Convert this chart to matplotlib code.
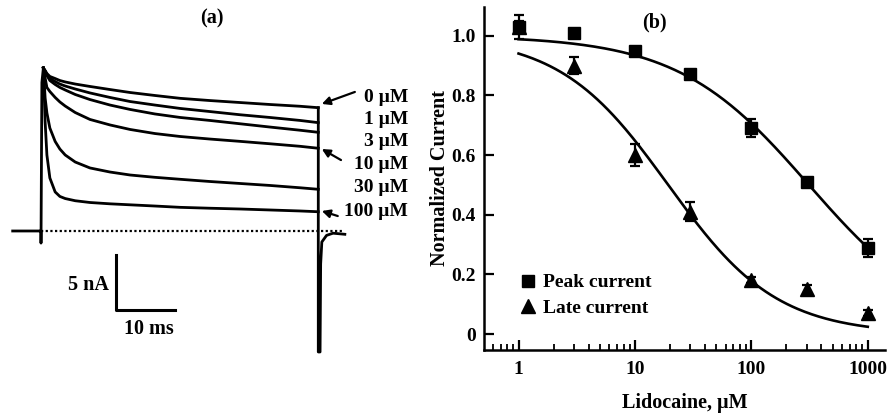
import numpy as np
import matplotlib.pyplot as plt
from matplotlib.ticker import FixedLocator, FixedFormatter, LogLocator, NullFormatter

plt.rcParams['font.family'] = ['Liberation Serif', 'DejaVu Serif']
plt.rcParams['font.weight'] = 'bold'

# ---- panel (a): current traces (time in ms, current in nA) ----
trace_t = [0.4, 0.7, 1.0, 1.5, 2.4, 3.2, 4.1, 5.8, 8.3, 11.7, 15.1, 19.3,
           23.6, 28.6, 33.7, 38.8, 43.9, 47.0]
trace_0uM = [14.82, 14.59, 14.32, 14.05, 13.86, 13.68, 13.55, 13.36, 13.14, 12.86,
             12.59, 12.32, 12.06, 11.86, 11.68, 11.50, 11.34, 11.21]
trace_1uM = [14.82, 14.55, 14.23, 13.86, 13.59, 13.36, 13.18, 12.91, 12.55, 12.14,
             11.77, 11.45, 11.14, 10.86, 10.57, 10.32, 10.05, 9.85]
trace_3uM = [14.82, 14.50, 14.14, 13.68, 13.32, 13.05, 12.82, 12.41, 11.95, 11.45,
             11.05, 10.64, 10.32, 10.05, 9.75, 9.45, 9.16, 8.97]
trace_10uM = [14.82, 13.91, 13.05, 12.68, 12.14, 11.73, 11.36, 10.77, 10.14, 9.64,
              9.23, 8.86, 8.59, 8.36, 8.15, 7.93, 7.70, 7.52]
trace_30uM = [14.82, 12.09, 10.73, 9.36, 8.14, 7.45, 6.91, 6.27, 5.73, 5.36,
              5.09, 4.88, 4.70, 4.50, 4.32, 4.14, 3.93, 3.79]
trace_100uM = [14.82, 9.91, 6.91, 4.82, 3.55, 3.14, 2.95, 2.75, 2.59, 2.47,
               2.38, 2.27, 2.15, 2.07, 2.00, 1.91, 1.82, 1.75]
traces = [trace_0uM, trace_1uM, trace_3uM, trace_10uM, trace_30uM, trace_100uM]
trace_labels = ["0 µM", "1 µM", "3 µM", "10 µM", "30 µM", "100 µM"]

# onset of the pulse and the tail after it
onset_t = [-4.8, 0.0, 0.0, 0.15, 0.4]
onset_i = [0.0, 0.0, -1.1, 13.5, 14.82]
tail_t = [47.0, 47.0, 47.3, 47.4, 47.6, 48.4, 49.5, 51.5]
tail_i = [11.21, -11.0, -11.0, -3.0, -1.0, -0.4, -0.2, -0.3]

# ---- panel (b): dose response ----
conc = [1, 3, 10, 30, 100, 300, 1000]
peak_mean = [1.03, 1.01, 0.95, 0.87, 0.69, 0.51, 0.29]
peak_err = [0.02, 0.01, 0.01, 0.01, 0.03, 0.01, 0.03]
late_mean = [1.03, 0.90, 0.60, 0.41, 0.18, 0.15, 0.07]
late_err = [0.04, 0.028, 0.036, 0.032, 0.01, 0.015, 0.01]
# Hill fit parameters
peak_ic50, peak_n = 312.0, 0.77
late_ic50, late_n = 19.3, 0.93


def hill(x, ic50, n):
    return 1.0 / (1.0 + (x / ic50) ** n)


fig = plt.figure(figsize=(8.91, 4.16), dpi=100)

# ---------------- panel (a) ----------------
ax_a = fig.add_axes([0, 0, 420 / 891, 1])
ax_a.set_xlim(-6.95, 64.24)
ax_a.set_ylim(-16.82, 21.0)
ax_a.axis('off')

lw = 2.0
ax_a.plot(onset_t, onset_i, color='black', lw=lw)
for tr in traces:
    ax_a.plot(trace_t, tr, color='black', lw=lw)
ax_a.plot(tail_t, tail_i, color='black', lw=lw)
ax_a.plot([0, 51.2], [0, 0], color='black', lw=1.6, linestyle=(0, (1, 1.1)))

# scale bar
ax_a.plot([12.7, 12.7, 22.7], [-2.18, -7.18, -7.18], color='black', lw=2.2)
ax_a.text(8.0, -4.9, "5 nA", ha='center', va='center', fontsize=14.5)
ax_a.text(18.2, -8.9, "10 ms", ha='center', va='center', fontsize=14.5)

label_y = [12.18, 10.18, 8.18, 6.0, 3.91, 1.73]
for lab, yy in zip(trace_labels, label_y):
    ax_a.text(62.2, yy, lab, ha='right', va='center', fontsize=14)

arrow_kw = dict(arrowstyle='-|>', color='black', lw=1.6, mutation_scale=12,
                shrinkA=0, shrinkB=0)
ax_a.annotate("", xy=(47.6, 11.55), xytext=(53.2, 12.64), arrowprops=arrow_kw)
ax_a.annotate("", xy=(47.6, 7.45), xytext=(50.85, 6.45), arrowprops=arrow_kw)
ax_a.annotate("", xy=(47.6, 1.82), xytext=(50.3, 1.36), arrowprops=arrow_kw)

ax_a.text(29.0, 19.3, "(a)", ha='center', va='center', fontsize=14.5)

# ---------------- panel (b) ----------------
ax_b = fig.add_axes([484 / 891, 1 - 350 / 416, 401 / 891, 343 / 416])
ax_b.set_xscale('log')
ax_b.set_xlim(0.505, 1406)
ax_b.set_ylim(-0.053, 1.096)

x_fit = np.logspace(0, 3, 200)
ax_b.plot(x_fit, hill(x_fit, peak_ic50, peak_n), color='black', lw=1.9)
ax_b.plot(x_fit, hill(x_fit, late_ic50, late_n), color='black', lw=1.9)

ax_b.errorbar(conc, peak_mean, yerr=peak_err, fmt='none', ecolor='black',
              elinewidth=1.6, capsize=3.6, capthick=1.6)
ax_b.errorbar(conc, late_mean, yerr=late_err, fmt='none', ecolor='black',
              elinewidth=1.6, capsize=3.6, capthick=1.6)
ax_b.plot(conc, peak_mean, 's', color='black', markersize=8.5, label='Peak current')
ax_b.plot(conc, late_mean, '^', color='black', markersize=10, label='Late current')

ax_b.spines['top'].set_visible(False)
ax_b.spines['right'].set_visible(False)
ax_b.spines['left'].set_linewidth(1.8)
ax_b.spines['bottom'].set_linewidth(1.8)

ax_b.xaxis.set_major_locator(FixedLocator([1, 10, 100, 1000]))
ax_b.xaxis.set_major_formatter(FixedFormatter(["1", "10", "100", "1000"]))
ax_b.xaxis.set_minor_locator(LogLocator(base=10, subs=np.arange(2, 10)))
ax_b.xaxis.set_minor_formatter(NullFormatter())
ax_b.yaxis.set_major_locator(FixedLocator([0, 0.2, 0.4, 0.6, 0.8, 1.0]))
ax_b.yaxis.set_major_formatter(FixedFormatter(["0", "0.2", "0.4", "0.6", "0.8", "1.0"]))

ax_b.tick_params(axis='both', which='major', direction='in', length=7, width=1.6,
                 labelsize=14)
ax_b.tick_params(axis='both', which='minor', direction='in', length=4, width=1.3)
ax_b.tick_params(axis='x', which='major', pad=8)
ax_b.tick_params(axis='y', which='major', pad=6)

ax_b.set_xlabel("Lidocaine, µM", fontsize=14.5, fontweight='bold')
ax_b.set_ylabel("Normalized Current", fontsize=14.5, fontweight='bold')
ax_b.xaxis.set_label_coords(0.5, -0.125)
ax_b.yaxis.set_label_coords(-0.085, 0.5)

ax_b.text(0.425, 0.955, "(b)", transform=ax_b.transAxes, ha='center', va='center',
          fontsize=14.5)

ax_b.legend(loc='upper left', bbox_to_anchor=(0.09, 0.222), frameon=False,
            fontsize=14, handlelength=0.8, handletextpad=0.4, labelspacing=0.4,
            borderpad=0, borderaxespad=0)

fig.savefig("out.png", dpi=100)
